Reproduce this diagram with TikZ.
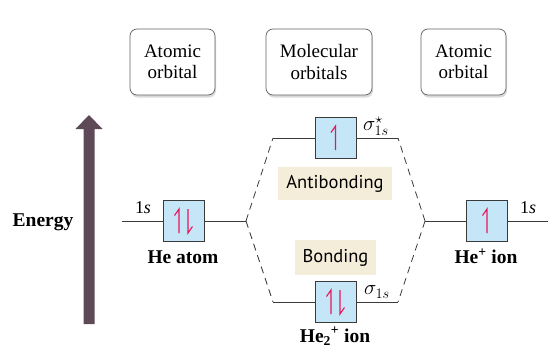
\documentclass[tikz,border=0pt]{standalone}
\usepackage{fontspec}
\setmainfont{Liberation Serif}
\newfontfamily\lblsans{PT Sans}
\usetikzlibrary{shadows,calc}
\definecolor{orbblue}{HTML}{C4E6F7}
\definecolor{ecol}{HTML}{E8175D}
\definecolor{beige}{HTML}{F4EDD9}
\definecolor{arrcol}{HTML}{5D4A56}
\definecolor{edge}{HTML}{3A3A3A}
\tikzset{
  hdr/.style={draw=edge!80, fill=white, rounded corners=7pt, line width=0.7pt,
    drop shadow={opacity=0.3, shadow xshift=1pt, shadow yshift=-2.5pt},
    minimum height=66pt, align=center, inner sep=2pt,
    font=\fontsize{19}{21.5}\selectfont},
  orb/.style={draw=edge, fill=orbblue, minimum size=41pt, inner sep=0pt, line width=0.8pt},
  lvl/.style={draw=edge, line width=0.8pt},
  corr/.style={draw=edge, line width=0.8pt, dash pattern=on 7pt off 5pt},
  tag/.style={fill=beige, inner sep=0pt, font=\lblsans\fontsize{18.5}{20}\selectfont},
  boldlbl/.style={font=\bfseries\fontsize{19.5}{21}\selectfont, inner sep=1pt},
  sublbl/.style={font=\fontsize{18}{20}\selectfont, inner sep=1pt},
  siglbl/.style={font=\fontsize{21}{22}\selectfont, inner sep=1pt},
  upe/.pic={\draw[ecol, line width=1.1pt] (0,12) -- (0,-12) -- (-4.5,-5.5);},
  dne/.pic={\draw[ecol, line width=1.1pt] (0,-12) -- (0,12) -- (4.5,5.5);}
}
\begin{document}
\begin{tikzpicture}[x=1pt, y=-1pt]
\useasboundingbox (0,0) rectangle (548,354);
% headers
\node[hdr, minimum width=85pt] (h1) at (172.5,62) {Atomic\\orbital};
\node[hdr, minimum width=106pt] (h2) at (319,62) {Molecular\\orbitals};
\node[hdr, minimum width=85pt] (h3) at (463.5,62) {Atomic\\orbital};
% energy arrow
\fill[arrcol] (83.5,324) -- (94.5,324) -- (94.5,129) -- (102.5,129) -- (89,115) -- (75.5,129) -- (83.5,129) -- cycle;
\node[boldlbl] (en) at (43,222) {Energy};
% orbital boxes
\node[orb] (heA) at (183.5,221) {};
\node[orb] (anti) at (335.5,138) {};
\node[orb] (bond) at (335.5,302) {};
\node[orb] (heP) at (487,221) {};
% level lines
\coordinate (L0) at (122,221);
\coordinate (LV) at (246,221);
\coordinate (A1) at (273,138);
\coordinate (A2) at (398,138);
\coordinate (B1) at (273,302);
\coordinate (B2) at (398,302);
\coordinate (RV) at (425,221);
\coordinate (R0) at (548,221);
\draw[lvl] (L0) -- (heA);
\draw[lvl] (heA) -- (LV);
\draw[lvl] (A1) -- (anti);
\draw[lvl] (anti) -- (A2);
\draw[lvl] (B1) -- (bond);
\draw[lvl] (bond) -- (B2);
\draw[lvl] (RV) -- (heP);
\draw[lvl] (heP) -- (R0);
% correlation lines
\draw[corr] (LV) -- (A1);
\draw[corr] (LV) -- (B1);
\draw[corr] (RV) -- (A2);
\draw[corr] (RV) -- (B2);
% electrons
\pic at ($(heA)+(-4.5,0)$) {upe};
\pic at ($(heA)+(4.5,0)$) {dne};
\pic at (anti) {upe};
\pic at ($(bond)+(-4.5,0)$) {upe};
\pic at ($(bond)+(4.5,0)$) {dne};
\pic at (heP) {upe};
% labels
\node[sublbl] (s1) at (143,208) {1\textit{s}};
\node[sublbl] (s2) at (528,208) {1\textit{s}};
\node[siglbl] (sa) at (376,126) {$\sigma^{\star}_{1s}$};
\node[siglbl] (sb) at (377,292) {$\sigma_{1s}$};
\node[boldlbl] (c1) at (183,257) {He atom};
\node[boldlbl] (c2) at (335,336) {He\textsubscript{2}\textsuperscript{+} ion};
\node[boldlbl] (c3) at (486,256) {He\textsuperscript{+} ion};
\node[tag, minimum width=114pt, minimum height=33pt] (ta) at (335,183.5) {Antibonding};
\node[tag, minimum width=81pt, minimum height=35pt] (tb) at (335.5,257.5) {Bonding};
\end{tikzpicture}
\end{document}
